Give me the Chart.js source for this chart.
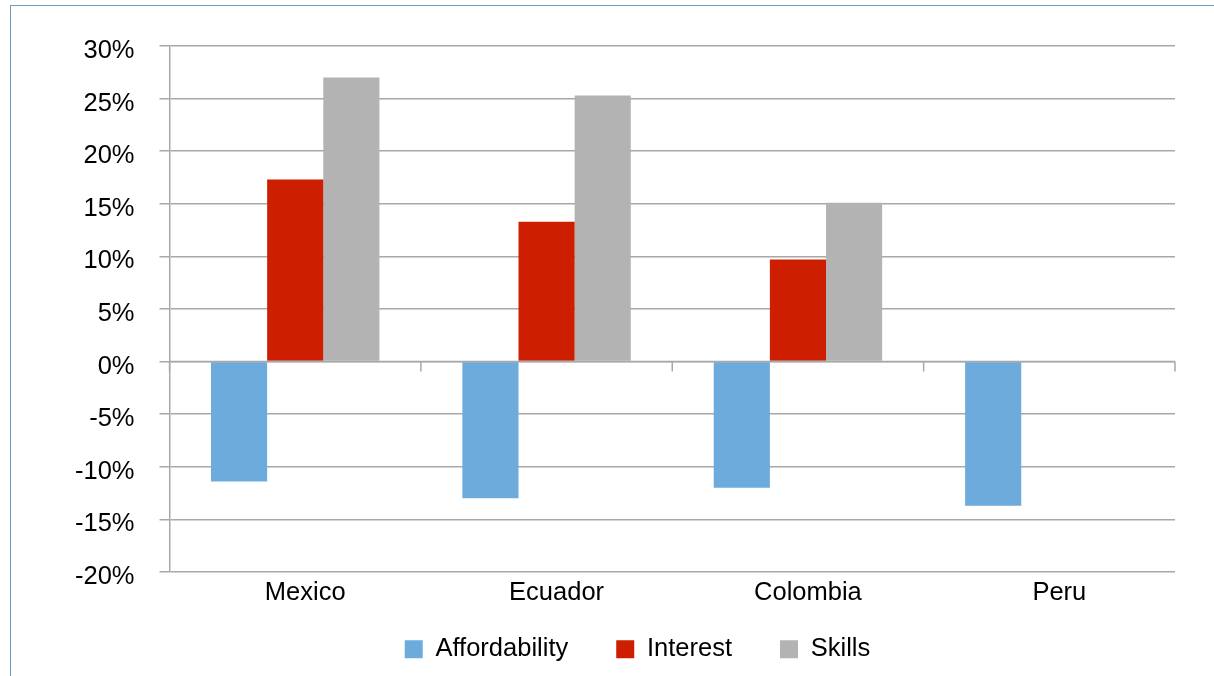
<!DOCTYPE html>
<html>
<head>
<meta charset="utf-8">
<script src="https://cdn.jsdelivr.net/npm/chart.js@4/dist/chart.umd.min.js"></script>
<style>
  html, body { margin: 0; padding: 0; background: #fff; overflow: hidden; }
  #frame {
    position: absolute; left: 10px; top: 5px; width: 1300px; height: 800px;
    border-left: 1px solid #6b9cc3; border-top: 1px solid #6b9cc3;
  }
  #wrap { position: absolute; left: 0; top: 0; width: 1214px; height: 676px; }
</style>
</head>
<body>
<div id="frame"></div>
<div id="wrap"><canvas id="chart"></canvas></div>
<script>
const countries = ["Mexico", "Ecuador", "Colombia", "Peru"];
const affordability = [-11.4, -13.0, -12.0, -13.7];
const interest = [17.3, 13.3, 9.7, null];
const skills = [27.0, 25.3, 15.1, null];

const gridColor = "#a8a8a8";
const labelFont = { family: "'Liberation Sans', Arial, sans-serif", size: 25.5 };

// small tick marks hanging under the zero line, one at each category boundary
const zeroTicks = {
    id: "zeroTicks",
    afterDatasetsDraw(chart) {
        const x = chart.scales.x;
        const y0 = chart.scales.y.getPixelForValue(0);
        const ctx = chart.ctx;
        ctx.save();
        ctx.strokeStyle = gridColor;
        ctx.lineWidth = 1.5;
        ctx.beginPath();
        ctx.moveTo(x.left, y0);
        ctx.lineTo(x.right, y0);
        for (let i = 0; i <= countries.length; i++) {
            const px = x.getPixelForValue(i - 0.5);
            ctx.moveTo(px, y0);
            ctx.lineTo(px, y0 + 10);
        }
        ctx.stroke();
        ctx.restore();
    }
};

// the legend keeps wide gaps between items but takes less height,
// so it sits right under the category labels; nudged a bit to the right
const legendShrink = 30;
const legendLift = 26;
const legendShift = 25;
const tightLegend = {
    id: "tightLegend",
    beforeInit(chart) {
        const fit = chart.legend.fit;
        chart.legend.fit = function () {
            fit.call(this);
            this.height -= legendShrink;
        };
    },
    afterLayout(chart) {
        const lg = chart.legend;
        lg.top -= legendLift;
        lg.left += legendShift;
        lg.right += legendShift;
    }
};

new Chart(document.getElementById("chart").getContext("2d"), {
    type: "bar",
    data: {
        labels: countries,
        datasets: [
            { label: "Affordability", data: affordability, backgroundColor: "#6cabdc" },
            { label: "Interest", data: interest, backgroundColor: "#cd1f00" },
            { label: "Skills", data: skills, backgroundColor: "#b3b3b3" }
        ]
    },
    options: {
        responsive: true,
        maintainAspectRatio: false,
        animation: false,
        categoryPercentage: 0.67,
        barPercentage: 1,
        layout: { padding: { left: 50, right: 39, top: 46, bottom: 8 } },
        plugins: {
            tooltip: { enabled: false },
            legend: {
                position: "bottom",
                labels: {
                    color: "#000",
                    font: labelFont,
                    boxWidth: 18,
                    boxHeight: 18,
                    padding: 48
                }
            }
        },
        scales: {
            x: {
                grid: { display: false, drawTicks: false },
                border: { display: false },
                ticks: { color: "#000", font: labelFont, padding: 6, labelOffset: 10 }
            },
            y: {
                min: -20,
                max: 30,
                grid: { color: gridColor, lineWidth: 1.5, tickLength: 10 },
                border: { color: gridColor, width: 1.5 },
                ticks: {
                    stepSize: 5,
                    color: "#000",
                    font: labelFont,
                    padding: 25,
                    labelOffset: 5,
                    callback: v => v + "%"
                }
            }
        }
    },
    plugins: [zeroTicks, tightLegend]
});
</script>
</body>
</html>
